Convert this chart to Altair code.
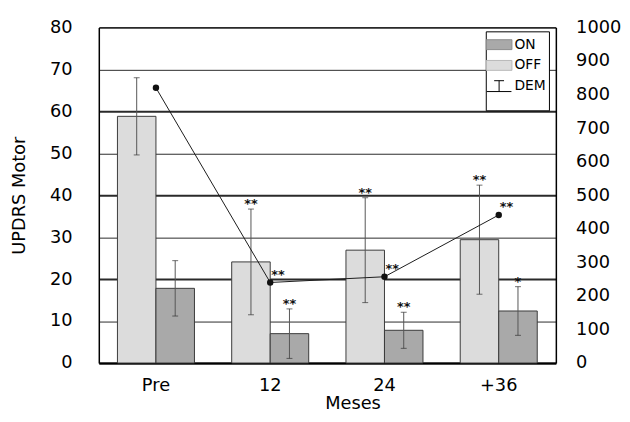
import altair as alt
import pandas as pd

# ---------------- data ----------------
meses = ["Pre", "12", "24", "+36"]
off_media = [58.8, 24.1, 26.9, 29.4]
off_de = [9.2, 12.6, 12.5, 13.0]
on_media = [17.8, 7.0, 7.8, 12.4]
on_de = [6.6, 5.9, 4.3, 5.8]
dem = [820, 240, 257, 441]
off_sig = ["", "**", "**", "**"]
on_sig = ["", "**", "**", "*"]
dem_sig = ["", "**", "**", "**"]

series = ["ON", "OFF", "DEM"]
fill_range = ["#a9a9a9", "#dcdcdc", "#ffffff"]
stroke_range = ["#8c8c8c", "#b8b8b8", "#000000"]
swatch = "M-1.3,-0.5H1.3V0.5H-1.3Z"
dem_sym = "M-0.5,-0.55H0.5M0,-0.55V0.55M-1.25,0.55H1.25"
shape_range = [swatch, swatch, dem_sym]

rows = []
for i, m in enumerate(meses):
    rows.append(dict(mes=m, serie="OFF", media=off_media[i],
                     lo=off_media[i] - off_de[i], hi=off_media[i] + off_de[i], sig=off_sig[i]))
    rows.append(dict(mes=m, serie="ON", media=on_media[i],
                     lo=on_media[i] - on_de[i], hi=on_media[i] + on_de[i], sig=on_sig[i]))
bars_df = pd.DataFrame(rows)
dem_df = pd.DataFrame({"mes": meses, "dem": dem, "sig": dem_sig})

FONT = "DejaVu Sans"

x_scale = alt.Scale(paddingInner=0.326, paddingOuter=0.163)
x_axis = alt.Axis(labelAngle=0, ticks=False, labelFontSize=18, labelPadding=14,
                  titleFontSize=18, titleFontWeight="normal", titlePadding=0,
                  titleX=257, domainColor="black", domainWidth=2,
                  labelColor="black", titleColor="black", labelFont=FONT, titleFont=FONT)
x_enc = alt.X("mes:N", sort=meses, scale=x_scale, axis=x_axis, title="Meses")
xo_enc = alt.XOffset("serie:N", sort=["OFF", "ON"])

y_scale = alt.Scale(domain=[0, 80], nice=False)
y_axis = alt.Axis(values=list(range(0, 81, 10)), ticks=False, labelFontSize=18,
                  labelPadding=27, titleFontSize=18, titleFontWeight="normal",
                  titlePadding=21, grid=True, gridColor="#2a2a2a",
                  gridWidth={"condition": {"test": "datum.value % 20 === 0", "value": 2}, "value": 1},
                  domainColor="black", domainWidth=1.5, labelColor="black",
                  titleColor="black", labelFont=FONT, titleFont=FONT)

legend = alt.Legend(orient="none", legendX=392, legendY=4, title=" ",
                    titleOrient="bottom", titleFontSize=10, titlePadding=4,
                    direction="vertical", padding=3, fillColor="white",
                    strokeColor="black", labelFontSize=14, labelFont=FONT,
                    labelColor="black", symbolSize=400, symbolStrokeWidth=1,
                    rowPadding=3, labelOffset=5, labelExpr="datum.label + '  '")

fill_scale = alt.Scale(domain=series, range=fill_range)
stroke_scale = alt.Scale(domain=series, range=stroke_range)
shape_scale = alt.Scale(domain=series, range=shape_range)

bars = alt.Chart(bars_df).mark_bar(stroke="#3a3a3a", strokeWidth=1).encode(
    x=x_enc, xOffset=xo_enc,
    y=alt.Y("media:Q", scale=y_scale, axis=y_axis, title="UPDRS Motor"),
    fill=alt.Fill("serie:N", scale=fill_scale, legend=legend),
)

err = alt.Chart(bars_df).mark_rule(color="#555555", strokeWidth=1).encode(
    x=x_enc, xOffset=xo_enc,
    y=alt.Y("lo:Q", scale=y_scale, axis=y_axis, title="UPDRS Motor"),
    y2="hi:Q",
)
cap_hi = alt.Chart(bars_df).mark_tick(color="#333333", thickness=1, size=6).encode(
    x=x_enc, xOffset=xo_enc,
    y=alt.Y("hi:Q", scale=y_scale, axis=y_axis, title="UPDRS Motor"),
)
cap_lo = alt.Chart(bars_df).mark_tick(color="#333333", thickness=1, size=6).encode(
    x=x_enc, xOffset=xo_enc,
    y=alt.Y("lo:Q", scale=y_scale, axis=y_axis, title="UPDRS Motor"),
)
sig = alt.Chart(bars_df).mark_text(font=FONT, fontSize=13, fontWeight="bold",
                                   color="#111111", baseline="alphabetic",
                                   align="center", dy=-1).encode(
    x=x_enc, xOffset=xo_enc,
    y=alt.Y("hi:Q", scale=y_scale, axis=y_axis, title="UPDRS Motor"),
    text="sig:N",
)
legend_layer = alt.Chart(bars_df).mark_point(filled=True, opacity=1).encode(
    fill=alt.Fill("serie:N", scale=fill_scale, legend=legend),
    stroke=alt.Stroke("serie:N", scale=stroke_scale, legend=legend),
    shape=alt.Shape("serie:N", scale=shape_scale, legend=legend),
    size=alt.value(0),
)

left = alt.layer(bars, err, cap_hi, cap_lo, sig, legend_layer)

y2_scale = alt.Scale(domain=[0, 1000], nice=False)
y2_axis = alt.Axis(orient="right", values=list(range(0, 1001, 100)), format="d", ticks=False,
                   grid=False, labelFontSize=18, labelPadding=20, title=None,
                   domainColor="black", domainWidth=1.5, labelColor="black", labelFont=FONT)

line = alt.Chart(dem_df).mark_line(color="#1a1a1a", strokeWidth=1).encode(
    x=x_enc, y=alt.Y("dem:Q", scale=y2_scale, axis=y2_axis),
)
pts = alt.Chart(dem_df).mark_circle(color="#111111", size=42, opacity=1).encode(
    x=x_enc, y=alt.Y("dem:Q", scale=y2_scale, axis=y2_axis),
)
dem_txt = alt.Chart(dem_df).mark_text(font=FONT, fontSize=13, fontWeight="bold",
                                      color="#111111", baseline="alphabetic",
                                      align="left", dx=1, dy=-4).encode(
    x=x_enc, y=alt.Y("dem:Q", scale=y2_scale, axis=y2_axis), text="sig:N",
)
right = alt.layer(line, pts, dem_txt)

chart = alt.layer(left, right).resolve_scale(y="independent").properties(
    width=463, height=340,
    autosize="none",
    padding={"left": 92, "top": 17, "right": 67, "bottom": 49},
).configure_view(stroke="black", strokeWidth=1).configure(font=FONT)

chart.save("out.html", embed_options={"renderer": "svg", "actions": False})
